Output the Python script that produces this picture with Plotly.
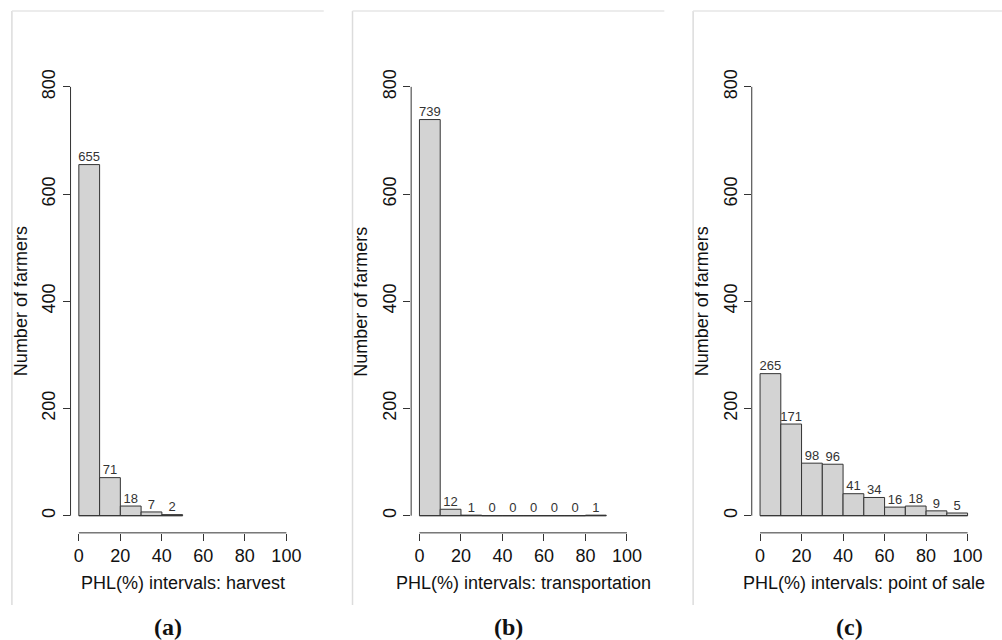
import plotly.graph_objects as go

# ---- data ----
bin_edges = [0, 10, 20, 30, 40, 50, 60, 70, 80, 90, 100]
harvest_counts = [655, 71, 18, 7, 2]
transport_counts = [739, 12, 1, 0, 0, 0, 0, 0, 1]
sale_counts = [265, 171, 98, 96, 41, 34, 16, 18, 9, 5]
x_ticks = [0, 20, 40, 60, 80, 100]
y_ticks = [0, 200, 400, 600, 800]
x_titles = ["PHL(%) intervals: harvest", "PHL(%) intervals: transportation",
            "PHL(%) intervals: point of sale"]
y_title = "Number of farmers"
panel_labels = ["(a)", "(b)", "(c)"]
series = [harvest_counts, transport_counts, sale_counts]

W, H = 1002, 640
FONT = "Liberation Sans, Arial, sans-serif"
AX = "#333333"

x0_px = [79.4, 422.4, 765.4]   # pixel of x=0 in each panel
px_per_x = 2.09
y0_px, y800_px = 515.5, 86.0
px_per_y = (y0_px - y800_px) / 800.0
xr = [-4, 104]
yr = [-32, 832]
border_left = [12, 355, 698]
panel_w = 314

fig = go.Figure()
layout = dict(
    width=W, height=H, margin=dict(l=0, r=0, t=0, b=0),
    paper_bgcolor="white", plot_bgcolor="white", showlegend=False,
    font=dict(family=FONT, size=18, color="#111111"),
)
shapes = []
annotations = []

ybot_px = y0_px - yr[0] * px_per_y
ytop_px = y0_px - yr[1] * px_per_y
ydomain = [1 - ybot_px / H, 1 - ytop_px / H]

for i, counts in enumerate(series):
    sfx = "" if i == 0 else str(i + 1)
    xa, ya = "x" + sfx, "y" + sfx
    left_px = x0_px[i] + xr[0] * px_per_x
    right_px = x0_px[i] + xr[1] * px_per_x
    edges = bin_edges[:len(counts) + 1]
    centers = [(edges[k] + edges[k + 1]) / 2 for k in range(len(counts))]
    widths = [edges[k + 1] - edges[k] for k in range(len(counts))]

    fig.add_trace(go.Bar(
        x=centers, y=counts, width=widths, xaxis=xa, yaxis=ya,
        marker=dict(color="#d3d3d3", line=dict(color=AX, width=1)),
        hoverinfo="skip"))
    # histogram baseline (outline of empty bins)
    fig.add_trace(go.Scatter(
        x=[edges[0], edges[-1]], y=[0, 0], mode="lines", xaxis=xa, yaxis=ya,
        line=dict(color=AX, width=1), hoverinfo="skip"))
    # count labels
    fig.add_trace(go.Scatter(
        x=centers, y=counts, mode="text", text=[str(c) for c in counts],
        textposition="top center", xaxis=xa, yaxis=ya,
        textfont=dict(family=FONT, size=13, color="#333333"), hoverinfo="skip"))

    layout["xaxis" + sfx] = dict(
        domain=[left_px / W, right_px / W], range=xr, anchor=ya,
        tickvals=x_ticks, ticks="outside", ticklen=7, tickcolor=AX, tickwidth=1,
        showline=False, showgrid=False, zeroline=False,
        tickfont=dict(family=FONT, size=18, color="#111111"))
    layout["yaxis" + sfx] = dict(
        domain=ydomain, range=yr, anchor=xa,
        tickvals=y_ticks, ticks="outside", ticklen=7, tickcolor=AX, tickwidth=1,
        tickangle=-90, showline=False, showgrid=False, zeroline=False,
        tickfont=dict(family=FONT, size=18, color="#111111"))

    # R-style detached axis lines
    shapes.append(dict(type="line", xref=xa, yref=ya + " domain",
                       x0=x_ticks[0], x1=x_ticks[-1], y0=0, y1=0,
                       line=dict(color=AX, width=1)))
    shapes.append(dict(type="line", xref=xa + " domain", yref=ya,
                       x0=0, x1=0, y0=y_ticks[0], y1=y_ticks[-1],
                       line=dict(color=AX, width=1)))

    # panel frame (light grey left and top lines)
    bl = border_left[i]
    shapes.append(dict(type="line", xref="paper", yref="paper",
                       x0=bl / W, x1=bl / W, y0=1 - 10 / H, y1=1 - 605 / H,
                       line=dict(color="#dcdcdc", width=1.5)))
    shapes.append(dict(type="line", xref="paper", yref="paper",
                       x0=bl / W, x1=(bl + panel_w) / W, y0=1 - 10 / H, y1=1 - 10 / H,
                       line=dict(color="#e6e6e6", width=1.5)))

    # axis titles
    annotations.append(dict(
        text=x_titles[i], xref="paper", yref="paper",
        x=(left_px + right_px) / 2 / W, y=1 - 583 / H,
        showarrow=False, xanchor="center", yanchor="middle",
        font=dict(family=FONT, size=18, color="#111111")))
    annotations.append(dict(
        text=y_title, xref="paper", yref="paper",
        x=(border_left[i] + 9) / W, y=1 - (ybot_px + ytop_px) / 2 / H,
        showarrow=False, xanchor="center", yanchor="middle", textangle=-90,
        font=dict(family=FONT, size=18, color="#111111")))
    annotations.append(dict(
        text="<b>" + panel_labels[i] + "</b>", xref="paper", yref="paper",
        x=(bl + panel_w / 2) / W, y=1 - 627 / H,
        showarrow=False, xanchor="center", yanchor="middle",
        font=dict(family="Liberation Serif, DejaVu Serif, serif", size=24, color="#111111")))

layout["shapes"] = shapes
layout["annotations"] = annotations
fig.update_layout(**layout)
fig.write_html(
    "out.html",
    config={"displayModeBar": False},
    post_script="document.body.style.margin='0';document.body.style.overflow='hidden';",
)
